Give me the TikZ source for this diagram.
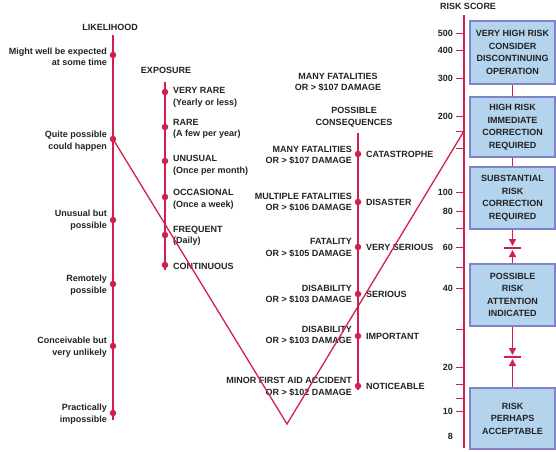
\documentclass[tikz,border=0pt]{standalone}
\usepackage{fontspec}
\setmainfont{Liberation Sans}
\usetikzlibrary{arrows.meta}
\definecolor{crim}{HTML}{D0204E}
\definecolor{boxfill}{HTML}{B4D4EE}
\definecolor{boxline}{HTML}{8282C8}
\definecolor{txt}{HTML}{222222}
\begin{document}
\begin{tikzpicture}[x=1pt,y=-1pt,
  every node/.style={font=\fontsize{9}{11.5}\selectfont\bfseries, text=txt, inner sep=0pt},
  axisline/.style={draw=crim, line width=1.8pt},
  nomo/.style={draw=crim, line width=1.3pt},
  dotmark/.style={circle, fill=crim, minimum size=6.5pt, inner sep=0pt},
  lbl/.style={align=right, anchor=east},
  rlbl/.style={align=left, anchor=west},
  riskbox/.style={draw=boxline, line width=1.2pt, fill=boxfill, minimum width=85pt, align=center,
    font=\fontsize{9}{12.5}\selectfont\bfseries},
  tickl/.style={anchor=east},
  tickmark/.style={draw=crim, line width=1pt},
  boxlink/.style={draw=crim, line width=1.5pt},
  boxarrow/.style={draw=crim, line width=1.5pt, -{Triangle[width=7pt,length=7pt]}, fill=crim},
]
\useasboundingbox (0,0) rectangle (556,451);

% ---------- LIKELIHOOD ----------
\node (likT) at (110,27) {LIKELIHOOD};
\coordinate (likTop) at (113,35);
\coordinate (likBot) at (113,420);
\draw[axisline] (likTop) -- (likBot);
\foreach \n/\y in {1/55,2/139,3/220,4/284,5/346,6/413}{
  \node[dotmark] (l\n) at (113,\y) {};
}
\node[lbl] (l1t) at (107,57) {Might well be expected\\at some time};
\node[lbl] (l2t) at (107,141) {Quite possible\\could happen};
\node[lbl] (l3t) at (107,220) {Unusual but\\possible};
\node[lbl] (l4t) at (107,285) {Remotely\\possible};
\node[lbl] (l5t) at (107,347) {Conceivable but\\very unlikely};
\node[lbl] (l6t) at (107,414) {Practically\\impossible};

% ---------- EXPOSURE ----------
\node (expT) at (166,70) {EXPOSURE};
\coordinate (expTop) at (165,82);
\coordinate (expBot) at (165,270);
\draw[axisline] (expTop) -- (expBot);
\foreach \n/\y in {1/92,2/127,3/161,4/197,5/235,6/265}{
  \node[dotmark] (e\n) at (165,\y) {};
}
\node[rlbl] (e1t) at (173,97.5) {VERY RARE\\(Yearly or less)};
\node[rlbl] (e2t) at (173,129) {RARE\\(A few per year)};
\node[rlbl] (e3t) at (173,165.5) {UNUSUAL\\(Once per month)};
\node[rlbl] (e4t) at (173,199.5) {OCCASIONAL\\(Once a week)};
\node[rlbl] (e5t) at (173,236) {FREQUENT\\(Daily)};
\node[rlbl] (e6t) at (173,266) {CONTINUOUS};

% ---------- CONSEQUENCES ----------
\node[align=center] (topc) at (338,82) {MANY FATALITIES\\OR > \$107 DAMAGE};
\node[align=center] (conT) at (354,117) {POSSIBLE\\CONSEQUENCES};
\coordinate (conTop) at (358,133);
\coordinate (conBot) at (358,390);
\draw[axisline] (conTop) -- (conBot);
\foreach \n/\y in {1/154,2/202,3/247,4/294,5/336,6/386}{
  \node[dotmark] (c\n) at (358,\y) {};
}
\node[lbl] (c1l) at (352,155) {MANY FATALITIES\\OR > \$107 DAMAGE};
\node[lbl] (c2l) at (352,202) {MULTIPLE FATALITIES\\OR > \$106 DAMAGE};
\node[lbl] (c3l) at (352,247.5) {FATALITY\\OR > \$105 DAMAGE};
\node[lbl] (c4l) at (352,294) {DISABILITY\\OR > \$103 DAMAGE};
\node[lbl] (c5l) at (352,335) {DISABILITY\\OR > \$103 DAMAGE};
\node[lbl] (c6l) at (352,386.5) {MINOR FIRST AID ACCIDENT\\OR > \$102 DAMAGE};
\node[rlbl] (c1r) at (366,154) {CATASTROPHE};
\node[rlbl] (c2r) at (366,202) {DISASTER};
\node[rlbl] (c3r) at (366,247) {VERY SERIOUS};
\node[rlbl] (c4r) at (366,294) {SERIOUS};
\node[rlbl] (c5r) at (366,336) {IMPORTANT};
\node[rlbl] (c6r) at (366,386) {NOTICEABLE};

% ---------- RISK SCORE ----------
\node (rsT) at (468,6) {RISK SCORE};
\coordinate (rsTop) at (464,15);
\coordinate (rsBot) at (464,448);
\draw[axisline] (rsTop) -- (rsBot);
\foreach \y/\l in {33/500,50/400,78/300,116/200,192/100,211/80,247/60,288/40,367/20,411/10}{
  \draw[tickmark] (456,\y) -- (464,\y);
  \node[tickl] (tk\l) at (453,\y) {\l};
}
\foreach \y in {131,148,228,267,329,384,398}{
  \draw[tickmark] (456,\y) -- (464,\y);
}
\node[tickl] (tk8) at (453,436) {8};

% ---------- NOMOGRAPH LINE ----------
\coordinate (pivot) at (287,424);
\coordinate (rs) at (464,131);
\draw[nomo, line join=miter] (l2.center) -- (pivot) -- (rs);

% ---------- RISK BOXES ----------
\node[riskbox, minimum height=63pt] (b1) at (512.5,52.5) {VERY HIGH RISK\\CONSIDER\\DISCONTINUING\\OPERATION};
\node[riskbox, minimum height=60pt] (b2) at (512.5,127) {HIGH RISK\\IMMEDIATE\\CORRECTION\\REQUIRED};
\node[riskbox, minimum height=62pt] (b3) at (512.5,198) {SUBSTANTIAL\\RISK\\CORRECTION\\REQUIRED};
\node[riskbox, minimum height=62pt] (b4) at (512.5,295) {POSSIBLE\\RISK\\ATTENTION\\INDICATED};
\node[riskbox, minimum height=61pt] (b5) at (512.5,418.5) {RISK\\PERHAPS\\ACCEPTABLE};

\draw[boxlink] (b1) -- (b2);
\draw[boxlink] (b2) -- (b3);

\coordinate (a1) at (512.5,246);
\coordinate (a2) at (512.5,250);
\coordinate (bar1l) at (504,248);
\coordinate (bar1r) at (521,248);
\draw[boxarrow] (b3) -- (a1);
\draw[boxarrow] (b4) -- (a2);
\draw[boxlink] (bar1l) -- (bar1r);

\coordinate (a3) at (512.5,355);
\coordinate (a4) at (512.5,359);
\coordinate (bar2l) at (504,357);
\coordinate (bar2r) at (521,357);
\draw[boxarrow] (b4) -- (a3);
\draw[boxarrow] (b5) -- (a4);
\draw[boxlink] (bar2l) -- (bar2r);
\end{tikzpicture}
\end{document}
